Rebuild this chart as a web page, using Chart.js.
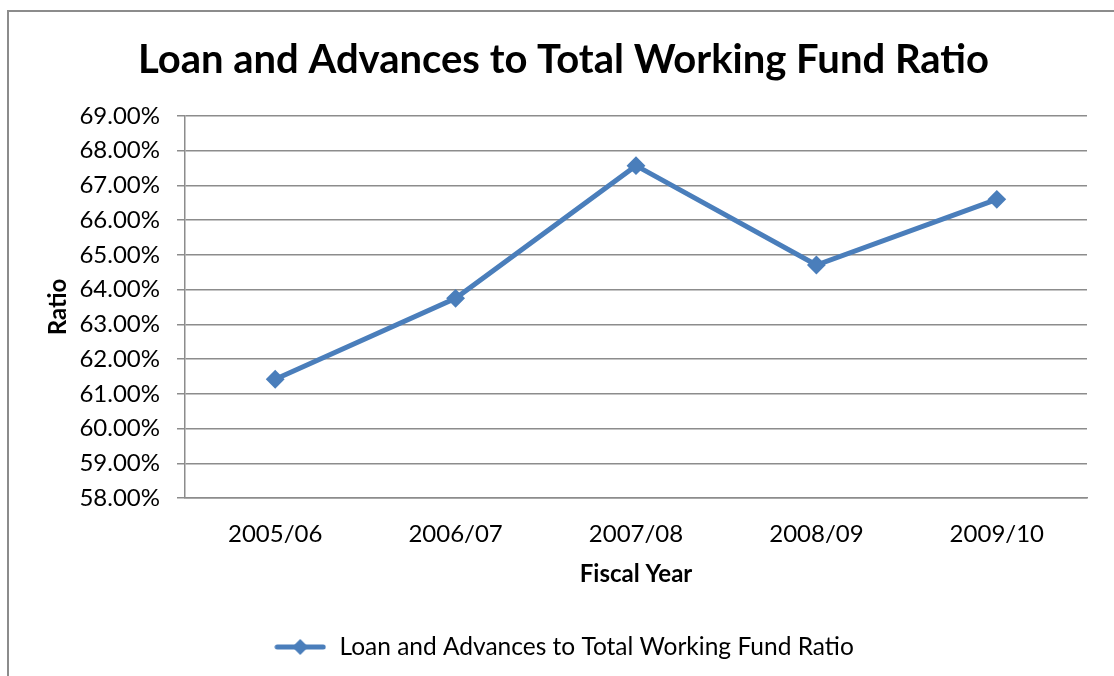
<!DOCTYPE html>
<html>
<head>
<meta charset="utf-8">
<script src="https://cdn.jsdelivr.net/npm/chart.js@4.4.0/dist/chart.umd.min.js"></script>
<style>
  body { margin: 0; background: #fff; }
  #wrap { position: relative; width: 1114px; height: 676px; overflow: hidden; }
  #frame { position: absolute; left: 7px; top: 10px; width: 1200px; height: 800px;
           border-left: 2px solid #8c8c8c; border-top: 2px solid #8c8c8c; pointer-events: none; }
  canvas { position: absolute; left: 0; top: 0; }
</style>
</head>
<body>
<div id="wrap">
  <canvas id="myChart" width="1114" height="676"></canvas>
  <div id="frame"></div>
</div>
<script>
// values
var years = ['2005/06', '2006/07', '2007/08', '2008/09', '2009/10']
var ratio = [61.42, 63.75, 67.57, 64.71, 66.60]
var yMin = 58
var yMax = 69

var blue = '#4a7ebb'
var grey = '#8c8c8c'
var font = 'Lato'

// legend sample: short line with a diamond in the middle
function legendMark() {
    var c = document.createElement('canvas')
    c.width = 52
    c.height = 22
    var g = c.getContext('2d')
    g.strokeStyle = blue
    g.lineWidth = 5
    g.lineCap = 'round'
    g.beginPath()
    g.moveTo(3, 11)
    g.lineTo(49, 11)
    g.stroke()
    g.fillStyle = blue
    g.beginPath()
    g.moveTo(26, 3)
    g.lineTo(34, 11)
    g.lineTo(26, 19)
    g.lineTo(18, 11)
    g.closePath()
    g.fill()
    return c
}

Chart.defaults.font.family = font
Chart.defaults.color = '#000'

const ctx = document.getElementById('myChart').getContext('2d');
const myChart = new Chart(ctx, {
    type: 'line',
    data: {
        labels: years,
        datasets: [{
            label: 'Loan and Advances to Total Working Fund Ratio',
            data: ratio,
            borderColor: blue,
            backgroundColor: blue,
            borderWidth: 5,
            pointStyle: 'rectRot',
            pointRadius: 8,
            pointBorderWidth: 2,
            pointHoverRadius: 8,
            tension: 0
        }]
    },
    options: {
        responsive: false,
        animation: false,
        layout: {
            padding: { left: 40, right: 27, top: 0, bottom: 6.75 }
        },
        plugins: {
            title: {
                display: true,
                text: 'Loan and Advances to Total Working Fund Ratio',
                font: { size: 40, weight: 'bold' },
                padding: { top: 36, bottom: 32 }
            },
            legend: {
                position: 'bottom',
                labels: {
                    usePointStyle: true,
                    pointStyle: legendMark(),
                    pointStyleWidth: 54,
                    boxHeight: 24.5,
                    font: { size: 24.5 },
                    padding: 10
                }
            },
            tooltip: { enabled: false }
        },
        scales: {
            x: {
                offset: true,
                grid: { display: false, drawTicks: false },
                border: { display: true, color: grey, width: 1.5 },
                ticks: { font: { size: 24 }, padding: 21.6 },
                title: {
                    display: true,
                    text: 'Fiscal Year',
                    font: { size: 24, weight: 'bold' },
                    padding: { top: 0, bottom: 36.35 }
                },
                afterFit: function (scale) { scale.height = 126.75 }
            },
            y: {
                min: yMin,
                max: yMax,
                grid: { color: grey, lineWidth: 1.5, tickLength: 8 },
                border: { color: grey, width: 1.5 },
                ticks: {
                    stepSize: 1,
                    font: { size: 24 },
                    padding: 17,
                    callback: function (v) { return v.toFixed(2) + '%' }
                },
                title: {
                    display: true,
                    text: 'Ratio',
                    font: { size: 24, weight: 'bold' },
                    padding: { top: 3.6, bottom: 0 }
                },
                afterFit: function (scale) { scale.width = 145 }
            }
        }
    }
});
</script>
</body>
</html>
